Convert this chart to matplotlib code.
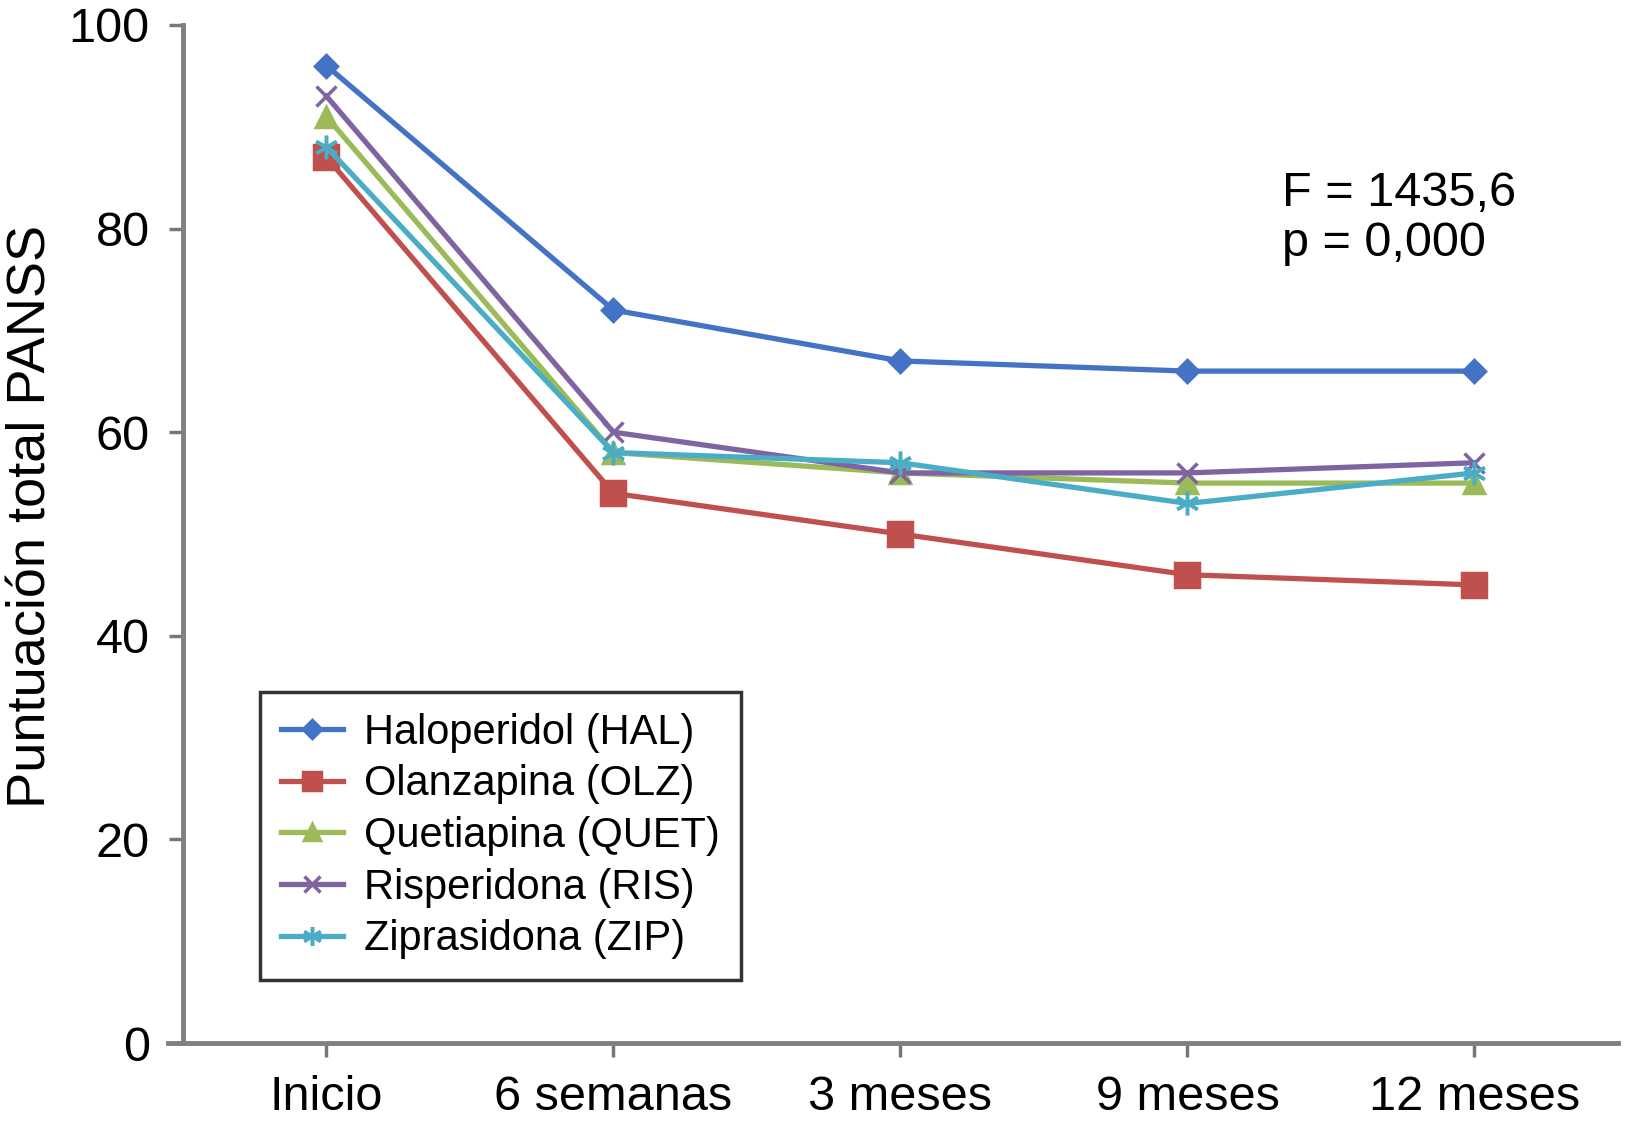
import matplotlib.pyplot as plt

plt.rcParams['font.family'] = ['Liberation Sans', 'DejaVu Sans']

# Data
timepoints = ['Inicio', '6 semanas', '3 meses', '9 meses', '12 meses']
hal = [96, 72, 67, 66, 66]
olz = [87, 54, 50, 46, 45]
quet = [91, 58, 56, 55, 55]
ris = [93, 60, 56, 56, 57]
zip_ = [88, 58, 57, 53, 56]

labels = ['Haloperidol (HAL)', 'Olanzapina (OLZ)', 'Quetiapina (QUET)',
          'Risperidona (RIS)', 'Ziprasidona (ZIP)']
colors = ['#4472C4', '#C0504D', '#9BBB59', '#8064A2', '#4BACC6']
markers = ['D', 's', '^', 'x', (6, 2, 0)]
msizes = [11, 17, 15, 15, 17]

fig = plt.figure(figsize=(16.31, 11.34), dpi=100)
ax = fig.add_axes([0.1122, 0.0802, 0.8798, 0.8978])

x = list(range(len(timepoints)))
for vals, lab, c, m, ms in zip([hal, olz, quet, ris, zip_], labels, colors, markers, msizes):
    ax.plot(x, vals, color=c, marker=m, markersize=ms, lw=3.8,
            markeredgewidth=2.5, markeredgecolor=c, label=lab, clip_on=False)

ax.set_xlim(-0.5, 4.5)
ax.set_ylim(0, 100)
ax.set_yticks(range(0, 101, 20))
ax.set_xticks(x)
ax.set_xticklabels(timepoints)
ax.tick_params(axis='both', labelsize=35, color='#777777', width=2.5, length=10)
ax.tick_params(axis='x', pad=13)
ax.tick_params(axis='y', pad=14)

for s in ['top', 'right']:
    ax.spines[s].set_visible(False)
for s in ['left', 'bottom']:
    ax.spines[s].set_color('#808080')
    ax.spines[s].set_linewidth(3.5)
ax.spines['bottom'].set_bounds(-0.553, 4.5)

ax.set_ylabel('Puntuación total PANSS', fontsize=39)
ax.yaxis.set_label_coords(-0.088, 0.517)

ax.text(3.33, 81, 'F = 1435,6\np = 0,000', fontsize=35, va='center', ha='left',
        linespacing=1.15)

leg = ax.legend(loc='lower left', bbox_to_anchor=(0.0537, 0.0619), borderaxespad=0,
                fontsize=30, frameon=True, fancybox=False, handlelength=1.5,
                handletextpad=0.5, labelspacing=0.28, borderpad=0.5, markerscale=0.8)
leg.get_frame().set_edgecolor('black')
leg.get_frame().set_linewidth(2.5)

plt.savefig('out.png', dpi=100)
